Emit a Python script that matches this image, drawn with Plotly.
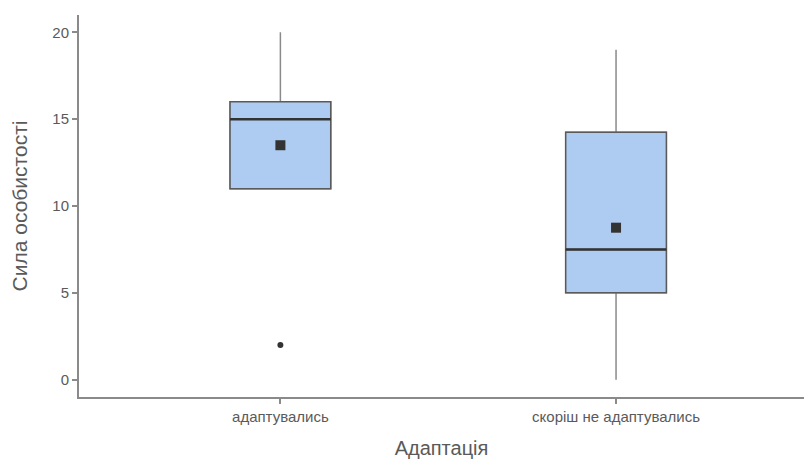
import plotly.graph_objects as go

categories = ["адаптувались", "скоріш не адаптувались"]
q1 = [11, 5]
medians = [15, 7.5]
q3 = [16, 14.25]
lower_fence = [11, 0]
upper_fence = [20, 19]
means = [13.5, 8.75]
outlier_group = [0]
outlier_values = [2]

y_ticks = [0, 5, 10, 15, 20]

pos = list(range(len(categories)))
box_w = 0.3
fill = "#aecbf1"
FONT = "Liberation Sans"

fig = go.Figure()
# whiskers (light grey)
fig.add_trace(go.Box(
    x=pos, q1=q1, median=medians, q3=q3,
    lowerfence=lower_fence, upperfence=upper_fence,
    width=box_w, whiskerwidth=0, fillcolor=fill,
    line=dict(color="#8a8a8a", width=1.5),
    boxpoints=False, showlegend=False, hoverinfo="skip",
))
# box body (darker outline, no whiskers)
fig.add_trace(go.Box(
    x=pos, q1=q1, median=medians, q3=q3,
    lowerfence=q1, upperfence=q3,
    width=box_w, whiskerwidth=0, fillcolor=fill,
    line=dict(color="#5a5a5a", width=1.5),
    boxpoints=False, showlegend=False,
))
# outliers
fig.add_trace(go.Scatter(
    x=outlier_group, y=outlier_values, mode="markers",
    marker=dict(color="#333333", size=6, symbol="circle"),
    showlegend=False,
))
# means
fig.add_trace(go.Scatter(
    x=pos, y=means, mode="markers",
    marker=dict(color="#333333", size=10, symbol="square"),
    showlegend=False,
))

# thicker medians
for p, m in zip(pos, medians):
    fig.add_shape(type="line", xref="x", yref="y",
                  x0=p - box_w / 2, x1=p + box_w / 2, y0=m, y1=m,
                  line=dict(color="#333333", width=2.5))

axis_common = dict(
    showgrid=False, zeroline=False, showline=True, automargin=False,
    linecolor="#8a8a8a", linewidth=2,
    ticks="outside", ticklen=5, tickcolor="#8a8a8a", tickwidth=1.5,
    tickfont=dict(family=FONT, size=15, color="#5a5a5a"),
)

fig.update_layout(
    width=804, height=459,
    margin=dict(l=79, r=0, t=15, b=62),
    plot_bgcolor="white", paper_bgcolor="white",
    boxmode="overlay",
    xaxis=dict(range=[-0.6, 1.56], tickvals=pos, ticktext=categories,
               title=dict(text="Адаптація", standoff=17,
                          font=dict(family=FONT, size=20, color="#5a5a5a")),
               **axis_common),
    yaxis=dict(range=[-1, 21], tickvals=y_ticks,
               title=dict(text="Сила особистості", standoff=19,
                          font=dict(family=FONT, size=21, color="#5a5a5a")),
               **axis_common),
)

fig.write_html("out.html", config={"displayModeBar": False},
               post_script="document.body.style.margin='0';")
